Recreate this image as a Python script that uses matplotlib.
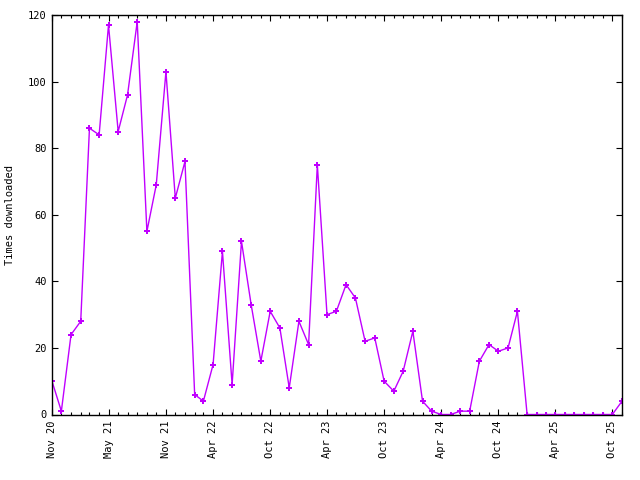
import matplotlib
matplotlib.use("Agg")
import matplotlib.pyplot as plt
import matplotlib.dates as mdates
import pandas as pd

start_month = "2020-11-01"
downloads = [10, 1, 24, 28, 86, 84, 117, 85, 96, 118, 55, 69, 103, 65, 76,
             6, 4, 15, 49, 9, 52, 33, 16, 31, 26, 8, 28, 21, 75, 30,
             31, 39, 35, 22, 23, 10, 7, 13, 25, 4, 1, 0, 0, 1, 1,
             16, 21, 19, 20, 31, 0, 0, 0, 0, 0, 0, 0, 0, 0, 0, 4]
tick_dates = ["2020-11-01", "2021-05-01", "2021-11-01", "2022-04-01", "2022-10-01",
              "2023-04-01", "2023-10-01", "2024-04-01", "2024-10-01", "2025-04-01",
              "2025-10-01"]
tick_labels = ["Nov 20", "May 21", "Nov 21", "Apr 22", "Oct 22", "Apr 23",
               "Oct 23", "Apr 24", "Oct 24", "Apr 25", "Oct 25"]
y_ticks = [0, 20, 40, 60, 80, 100, 120]

months = pd.date_range(start_month, periods=len(downloads), freq="MS")

font = "DejaVu Sans Mono"
fig = plt.figure(figsize=(6.4, 4.8), dpi=100)
ax = fig.add_axes([52/640, 1-414.5/480, (622-52)/640, (414.5-15)/480])

color = "#c000ff"
ax.plot(months, downloads, color=color, linewidth=1.0, marker="P",
        markersize=4, markeredgewidth=0, markerfacecolor=color)

ax.set_xlim(months[0], months[-1])
ax.set_ylim(0, 120)
ax.set_yticks(y_ticks)
ax.set_yticklabels([str(v) for v in y_ticks], fontfamily=font, fontsize=7.5)

ax.set_xticks(pd.to_datetime(tick_dates))
ax.set_xticklabels(tick_labels, rotation=90, fontfamily=font, fontsize=7.5,
                   ha="center", va="top")
ax.xaxis.set_minor_locator(mdates.MonthLocator())

ax.tick_params(axis="both", which="major", direction="in", length=4.5, width=0.8,
               top=True, right=True, colors="black", pad=4)
ax.tick_params(axis="x", which="minor", direction="in", length=2.5, width=0.8,
               top=True, bottom=True)
ax.tick_params(axis="y", which="minor", left=False, right=False)

for s in ax.spines.values():
    s.set_linewidth(1.0)

fig.text(10/640, 1-215/480, "Times downloaded", rotation=90, ha="center",
         va="center", fontfamily=font, fontsize=7.5)

fig.savefig("out.png", dpi=100)
